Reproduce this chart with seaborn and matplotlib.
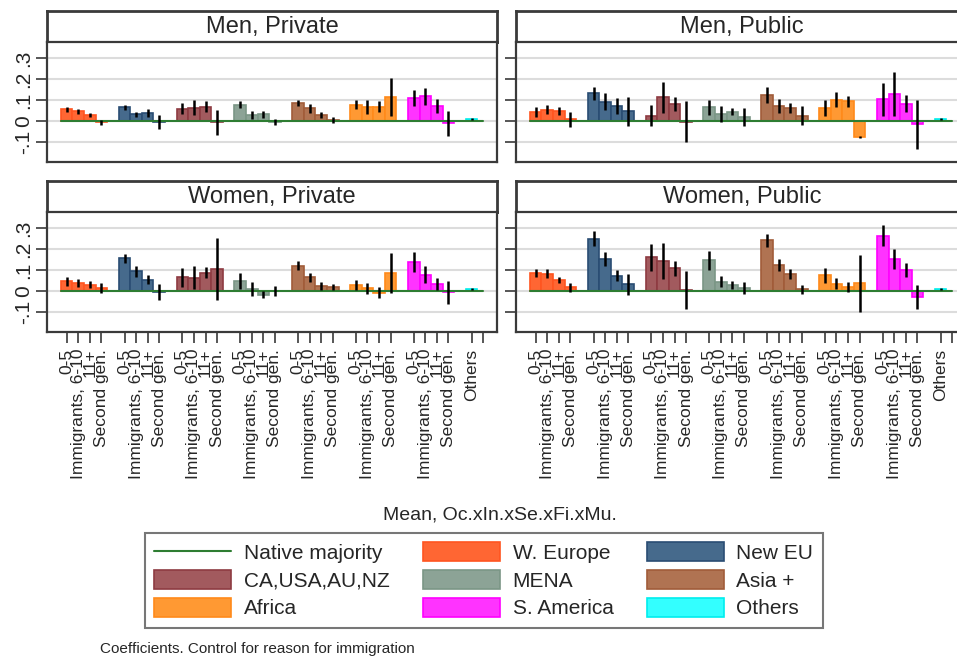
import numpy as np
import pandas as pd
import matplotlib
matplotlib.use("Agg")
import matplotlib.pyplot as plt
import matplotlib.colors as mcolors
import seaborn as sns
from matplotlib.patches import Patch
from matplotlib.lines import Line2D

sns.set_theme(style="white")
plt.rcParams["font.family"] = ["Liberation Sans", "DejaVu Sans"]

# --- data (coefficients and 95% CI half-widths) ---
regions = ["W. Europe", "New EU", "CA,USA,AU,NZ", "MENA", "Asia +", "Africa", "S. America"]
sub_labels = ["0-5", "Immigrants, 6-10", "11+", "Second gen."]
other_label = "Others"
native_label = "Native majority"
native_majority = 0.0
panel_titles = ["Men, Private", "Men, Public", "Women, Private", "Women, Public"]

men_private = [0.055, 0.046, 0.028, -0.007,
               0.065, 0.032, 0.040, -0.005,
               0.059, 0.064, 0.069, -0.006,
               0.077, 0.029, 0.032, -0.003,
               0.086, 0.061, 0.027, 0.005,
               0.077, 0.067, 0.067, 0.115,
               0.110, 0.118, 0.073, -0.011,
               0.010]
men_private_ci = [0.012, 0.013, 0.009, 0.013,
                  0.012, 0.013, 0.019, 0.032,
                  0.025, 0.037, 0.025, 0.060,
                  0.017, 0.020, 0.016, 0.014,
                  0.014, 0.021, 0.014, 0.014,
                  0.022, 0.032, 0.026, 0.092,
                  0.037, 0.040, 0.033, 0.060,
                  0.003]

men_public = [0.043, 0.054, 0.048, 0.008,
              0.132, 0.091, 0.072, 0.046,
              0.024, 0.112, 0.081, -0.003,
              0.065, 0.033, 0.045, 0.018,
              0.124, 0.072, 0.061, 0.026,
              0.062, 0.102, 0.093, -0.075,
              0.104, 0.129, 0.083, -0.016,
              0.008]
men_public_ci = [0.026, 0.021, 0.017, 0.036,
                 0.032, 0.040, 0.039, 0.068,
                 0.050, 0.072, 0.034, 0.098,
                 0.034, 0.038, 0.018, 0.044,
                 0.040, 0.033, 0.023, 0.046,
                 0.039, 0.037, 0.026, 0.006,
                 0.078, 0.104, 0.041, 0.116,
                 0.004]

women_private = [0.046, 0.038, 0.029, 0.014,
                 0.155, 0.094, 0.054, -0.004,
                 0.065, 0.064, 0.086, 0.104,
                 0.048, 0.010, -0.018, -0.001,
                 0.120, 0.065, 0.026, 0.019,
                 0.029, 0.013, -0.008, 0.086,
                 0.140, 0.077, 0.032, -0.006,
                 0.010]
women_private_ci = [0.022, 0.021, 0.017, 0.024,
                    0.021, 0.026, 0.022, 0.039,
                    0.044, 0.053, 0.026, 0.149,
                    0.037, 0.032, 0.017, 0.023,
                    0.022, 0.022, 0.019, 0.014,
                    0.022, 0.026, 0.025, 0.097,
                    0.048, 0.040, 0.028, 0.056,
                    0.004]

women_public = [0.086, 0.083, 0.051, 0.018,
                0.249, 0.152, 0.073, 0.032,
                0.161, 0.142, 0.108, 0.005,
                0.147, 0.045, 0.027, 0.014,
                0.241, 0.123, 0.081, 0.008,
                0.075, 0.035, 0.018, 0.037,
                0.262, 0.152, 0.100, -0.030,
                0.011]
women_public_ci = [0.019, 0.023, 0.014, 0.022,
                   0.037, 0.033, 0.026, 0.051,
                   0.065, 0.086, 0.035, 0.091,
                   0.045, 0.028, 0.019, 0.027,
                   0.030, 0.027, 0.025, 0.021,
                   0.035, 0.026, 0.023, 0.136,
                   0.050, 0.046, 0.031, 0.057,
                   0.004]

y_ticks = [-0.1, 0.0, 0.1, 0.2, 0.3]
y_tick_labels = ["-.1", "0", ".1", ".2", ".3"]

# --- colours (fill, edge) ---
fill_colors = {
    "W. Europe": "#ff6633", "New EU": "#466a8c", "CA,USA,AU,NZ": "#a25a5e",
    "MENA": "#8ca396", "Asia +": "#b07352", "Africa": "#ff9933",
    "S. America": "#ff33ff", "Others": "#33ffff",
}
edge_colors = {
    "W. Europe": "#ff5520", "New EU": "#2a4d73", "CA,USA,AU,NZ": "#8e3b42",
    "MENA": "#7b9686", "Asia +": "#a15c39", "Africa": "#ff8a1a",
    "S. America": "#ff00ff", "Others": "#00eeee",
}
native_color = "#2e7d32"

# --- long table: slot positions leave one blank slot between regions ---
panel_values = {"Men, Private": (men_private, men_private_ci),
                "Men, Public": (men_public, men_public_ci),
                "Women, Private": (women_private, women_private_ci),
                "Women, Public": (women_public, women_public_ci)}
rows = []
for title, (vals, cis) in panel_values.items():
    for r, reg in enumerate(regions):
        for j, lab in enumerate(sub_labels):
            k = r * 4 + j
            rows.append(dict(panel=title, region=reg, label=lab, slot=r * 5 + j,
                             coef=vals[k], ci=cis[k]))
    rows.append(dict(panel=title, region=other_label, label=other_label,
                     slot=len(regions) * 5, coef=vals[-1], ci=cis[-1]))
df = pd.DataFrame(rows)
native_slot = df["slot"].max() + 1

tick_pos = list(df[df.panel == panel_titles[0]]["slot"]) + [native_slot]
tick_lab = list(df[df.panel == panel_titles[0]]["label"]) + [""]

# --- figure, laid out in pixels ---
W, H = 957, 657
fig = plt.figure(figsize=(W / 100, H / 100), dpi=100)

def px_axes(x0, y0, w, h):
    return fig.add_axes([x0 / W, 1 - (y0 + h) / H, w / W, h / H])

layout = {"Men, Private": (47, 11, 450), "Men, Public": (516, 11, 452),
          "Women, Private": (47, 181, 450), "Women, Public": (516, 181, 452)}
frame_col = "#3a3a3a"

for i, title in enumerate(panel_titles):
    x0, y0, w = layout[title]
    tax = px_axes(x0, y0, w, 31)
    tax.set_xticks([]); tax.set_yticks([])
    for s in tax.spines.values():
        s.set_color(frame_col); s.set_linewidth(2)
    tax.text(0.5, 0.47, title, ha="center", va="center", fontsize=17,
             transform=tax.transAxes)

    ax = px_axes(x0, y0 + 31, w, 120)
    sub = df[df.panel == title]
    sns.barplot(data=sub, x="slot", y="coef", hue="region",
                hue_order=regions + [other_label], palette=fill_colors,
                native_scale=True, dodge=False, width=1, saturation=1,
                errorbar=None, legend=False, linewidth=1.2, ax=ax)
    lookup = {mcolors.to_hex(c): edge_colors[k] for k, c in fill_colors.items()}
    for p in ax.patches:
        p.set_edgecolor(lookup.get(mcolors.to_hex(p.get_facecolor()), "none"))
        p.set_zorder(2)
    ax.plot([sub["slot"].min() - 0.5, native_slot], [native_majority] * 2,
            color=native_color, lw=1.5, zorder=2.5)
    ax.errorbar(sub["slot"], sub["coef"], yerr=sub["ci"], fmt="none",
                ecolor="black", elinewidth=1.8, capsize=0, zorder=3)

    ax.set_xlim(-1.7, -1.7 + w / 11.57)
    ax.set_ylim(-0.195, 0.376)
    ax.set_xlabel(""); ax.set_ylabel("")
    ax.grid(axis="y", color="#dcdcdc", lw=1.5)
    ax.grid(axis="x", visible=False)
    ax.set_axisbelow(True)
    for s in ax.spines.values():
        s.set_color(frame_col); s.set_linewidth(1.6)

    ax.set_yticks(y_ticks)
    left = i % 2 == 0
    if left:
        ax.set_yticklabels(y_tick_labels, rotation=90, va="center", fontsize=15)
    else:
        ax.set_yticklabels([])
    ax.tick_params(axis="y", left=True, length=8, width=1.2, color=frame_col,
                   pad=2, labelleft=left)

    ax.set_xticks(tick_pos)
    if i >= 2:
        ax.set_xticklabels(tick_lab, rotation=90, ha="center", va="top", fontsize=12.5)
        ax.tick_params(axis="x", bottom=True, length=8, width=1.2, color=frame_col, pad=4)
    else:
        ax.tick_params(axis="x", bottom=False, labelbottom=False)

# --- legend and notes ---
fig.text(500 / W, 1 - 515 / H, "Mean, Oc.xIn.xSe.xFi.xMu.", ha="center", va="center",
         fontsize=14)
handle = {native_label: Line2D([], [], color=native_color, lw=1.5)}
for k in fill_colors:
    handle[k] = Patch(facecolor=fill_colors[k], edgecolor=edge_colors[k], lw=1.2)
order = [native_label, "CA,USA,AU,NZ", "Africa",
         "W. Europe", "MENA", "S. America",
         "New EU", "Asia +", "Others"]
leg = fig.legend([handle[k] for k in order], order, ncol=3, loc="upper left",
                 bbox_to_anchor=(145 / W, 1 - 533 / H), fontsize=15, frameon=True,
                 fancybox=False, handlelength=3.7, handleheight=1.0,
                 handletextpad=0.6, columnspacing=1.6, labelspacing=0.35,
                 borderpad=0.45, borderaxespad=0)
leg.get_frame().set_edgecolor("#555555")
leg.get_frame().set_linewidth(1.5)

fig.text(100 / W, 1 - 649 / H, "Coefficients. Control for reason for immigration",
         ha="left", va="center", fontsize=11)

fig.savefig("out.png", dpi=100)
